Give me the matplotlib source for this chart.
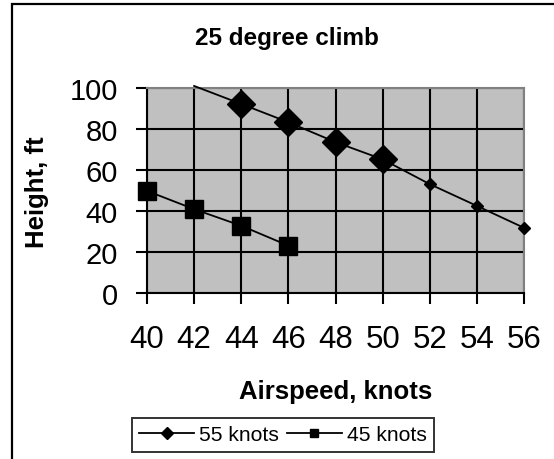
import matplotlib.pyplot as plt
from matplotlib.patches import Rectangle

plt.rcParams['font.family'] = ['Liberation Sans', 'DejaVu Sans']

# Climb data, height (ft) against airspeed (knots)
speed_55 = [42, 44, 46, 48, 50, 52, 54, 56]
height_55 = [101, 92.2, 83.3, 73.6, 65.2, 53.1, 42.5, 31.8]
# marker size per point (0 = no marker drawn)
msize_55 = [0, 14, 14, 14, 14, 6.3, 6.3, 6.3]

speed_45 = [40, 42, 44, 46]
height_45 = [49.8, 40.9, 32.8, 23.1]

xticks = [40, 42, 44, 46, 48, 50, 52, 54, 56]
yticks = [0, 20, 40, 60, 80, 100]

W, H = 554, 460
fig = plt.figure(figsize=(W / 100, H / 100), dpi=100)
ax = fig.add_axes([147 / W, 1 - 294 / H, (524 - 147) / W, (294 - 89) / H])
ax.set_facecolor('#c0c0c0')

# outer chart border (runs off the right and bottom edges)
fig.patches.append(Rectangle((12 / W, -0.05), 1.1, 1 - 5 / H + 0.05,
                             transform=fig.transFigure, fill=False,
                             edgecolor='black', linewidth=1.6))

ax.plot(speed_55, height_55, color='black', lw=1.3, clip_on=False, zorder=3)
for x, y, s in zip(speed_55, height_55, msize_55):
    if s:
        ax.plot(x, y, marker='D', ms=s, color='black', zorder=4, clip_on=False)
ax.plot(speed_45, height_45, color='black', lw=1.3, marker='s', ms=13.4,
        zorder=4, clip_on=False)

# legend proxies
ax.plot([], [], color='black', lw=1.3, marker='D', ms=6, label='55 knots')
ax.plot([], [], color='black', lw=1.3, marker='s', ms=5.5, label='45 knots')

ax.set_xlim(40, 56)
ax.set_ylim(0, 100)
ax.set_xticks(xticks)
ax.set_yticks(yticks)
ax.grid(True, color='black', lw=1.5)
ax.set_axisbelow(True)
ax.tick_params(direction='out', length=8, width=1.5)
ax.tick_params(axis='x', labelsize=22.5, pad=14)
ax.tick_params(axis='y', labelsize=21, pad=13)
for side in ['top', 'right']:
    ax.spines[side].set_color('#808080')
    ax.spines[side].set_linewidth(1.5)
for side in ['left', 'bottom']:
    ax.spines[side].set_linewidth(1.5)

fig.text(287 / W, 1 - 38 / H, '25 degree climb', ha='center', va='center',
         fontsize=17.5, fontweight='bold')
fig.text(37 / W, 1 - 192 / H, 'Height, ft', ha='center', va='center',
         rotation=90, fontsize=18.5, fontweight='bold')
fig.text(336 / W, 1 - 392 / H, 'Airspeed, knots', ha='center', va='center',
         fontsize=18.5, fontweight='bold')

leg = fig.legend(loc='center', bbox_to_anchor=(283 / W, 1 - 436 / H), ncol=2,
                 fontsize=15.2, frameon=True, fancybox=False, edgecolor='black',
                 handlelength=2.6, columnspacing=0.35, handletextpad=0.25,
                 borderpad=0.35, borderaxespad=0)
leg.get_frame().set_linewidth(1.4)

fig.savefig('out.png', dpi=100)
